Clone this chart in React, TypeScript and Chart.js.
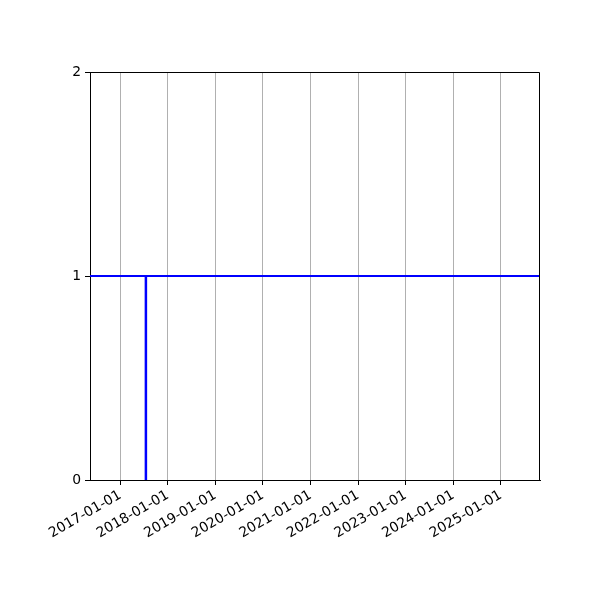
import React, { useEffect, useRef } from 'react';
import { Chart, registerables } from 'chart.js';

Chart.register(...registerables);

// axis limits and year ticks
const axisStart = '2016-05-14';
const axisEnd = '2025-10-28';
const tickYears = [2017, 2018, 2019, 2020, 2021, 2022, 2023, 2024, 2025];
const yTicks = [0, 1, 2];

// horizontal level line
const levelDates = ['2016-05-14', '2025-10-28'];
const levelValues = [1, 1];

// vertical marker
const markerDates = ['2017-07-17', '2017-07-17'];
const markerValues = [0, 1];

const ms = (d: string) => Date.parse(d + 'T00:00:00Z');
const pad = (n: number) => String(n).padStart(2, '0');
const fmtDate = (v: number) => {
  const d = new Date(v);
  return `${d.getUTCFullYear()}-${pad(d.getUTCMonth() + 1)}-${pad(d.getUTCDate())}`;
};

// top and right spines
const frame = {
  id: 'frame',
  afterDraw(chart: Chart) {
    const { ctx, chartArea } = chart;
    ctx.save();
    ctx.strokeStyle = '#000';
    ctx.lineWidth = 1;
    ctx.beginPath();
    ctx.moveTo(chartArea.left, chartArea.top + 0.5);
    ctx.lineTo(chartArea.right - 0.5, chartArea.top + 0.5);
    ctx.lineTo(chartArea.right - 0.5, chartArea.bottom);
    ctx.stroke();
    ctx.restore();
  },
};

export default function App() {
  const canvasRef = useRef<HTMLCanvasElement>(null);
  const chartInstance = useRef<Chart | null>(null);

  useEffect(() => {
    if (!canvasRef.current) return;
    const ctx = canvasRef.current.getContext('2d');
    if (!ctx) return;

    chartInstance.current = new Chart(ctx, {
      type: 'line',
      data: {
        datasets: [
          {
            data: levelDates.map((d, i) => ({ x: ms(d), y: levelValues[i] })),
            borderColor: 'blue',
            borderWidth: 2,
            pointRadius: 0,
            tension: 0,
          },
          {
            data: markerDates.map((d, i) => ({ x: ms(d), y: markerValues[i] })),
            borderColor: 'blue',
            borderWidth: 2.5,
            pointRadius: 0,
            tension: 0,
          },
        ],
      },
      options: {
        responsive: false,
        animation: false,
        layout: { padding: { left: 0, top: 72, right: 60, bottom: 0 } },
        plugins: { legend: { display: false }, tooltip: { enabled: false } },
        scales: {
          x: {
            type: 'linear',
            min: ms(axisStart),
            max: ms(axisEnd),
            afterBuildTicks: (scale: any) => {
              scale.ticks = tickYears.map((y) => ({ value: ms(`${y}-01-01`) }));
            },
            afterFit: (scale: any) => {
              scale.height = 120;
            },
            ticks: {
              color: '#000',
              minRotation: 30,
              maxRotation: 30,
              autoSkip: false,
              padding: 2,
              font: { family: 'DejaVu Sans', size: 13.9 },
              callback: (v: any) => fmtDate(Number(v)),
            },
            grid: {
              color: '#b0b0b0',
              lineWidth: 1,
              tickColor: '#000',
              tickLength: 5,
            },
            border: { color: '#000' },
          },
          y: {
            type: 'linear',
            min: 0,
            max: 2,
            afterBuildTicks: (scale: any) => {
              scale.ticks = yTicks.map((v) => ({ value: v }));
            },
            afterFit: (scale: any) => {
              scale.width = 90;
            },
            ticks: {
              color: '#000',
              padding: 4,
              font: { family: 'DejaVu Sans', size: 13.9 },
            },
            grid: {
              drawOnChartArea: false,
              tickColor: '#000',
              tickLength: 5,
            },
            border: { color: '#000' },
          },
        },
      },
      plugins: [frame],
    });

    return () => {
      chartInstance.current?.destroy();
    };
  }, []);

  return (
    <div style={{ position: 'absolute', left: 0, top: 0, width: 600, height: 600, background: '#fff' }}>
      <canvas ref={canvasRef} width={600} height={600} />
    </div>
  );
}
